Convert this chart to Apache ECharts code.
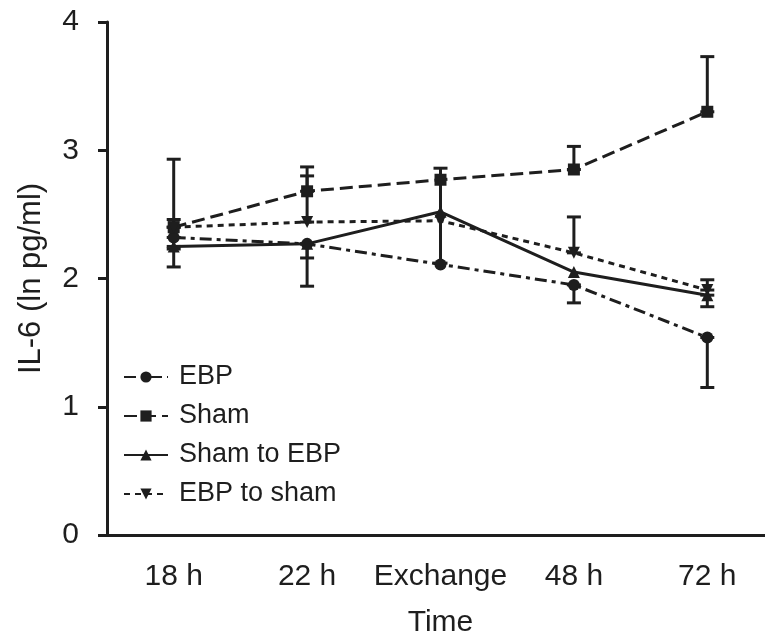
<!DOCTYPE html>
<html>
<head>
<meta charset="utf-8">
<script src="https://cdn.jsdelivr.net/npm/echarts@6/dist/echarts.min.js"></script>
<style>
  html, body { margin: 0; padding: 0; background: #fff; }
  #chart { width: 765px; height: 642px; }
</style>
</head>
<body>
<div id="chart"></div>
<script>
const categories = ['18 h', '22 h', 'Exchange', '48 h', '72 h'];
const yTicks = [0, 1, 2, 3, 4];

// means (ln pg/ml)
const ebp = [2.32, 2.27, 2.11, 1.95, 1.54];
const sham = [2.40, 2.68, 2.77, 2.85, 3.30];
const shamToEbp = [2.25, 2.27, 2.52, 2.05, 1.87];
const ebpToSham = [2.40, 2.44, 2.45, 2.20, 1.91];

// error bar ends, null = no bar drawn
const ebpLow = [2.23, 2.16, null, 1.81, 1.15];
const ebpHigh = [2.32, 2.27, null, 1.95, 1.54];
const shamLow = [2.40, 2.68, null, 2.85, 3.30];
const shamHigh = [2.93, 2.87, null, 3.03, 3.73];
const shamToEbpLow = [2.09, 1.94, 2.12, null, 1.78];
const shamToEbpHigh = [2.25, 2.27, 2.86, null, 1.87];
const ebpToShamLow = [2.40, 2.44, null, 2.20, 1.91];
const ebpToShamHigh = [2.46, 2.80, null, 2.48, 1.99];

const ink = '#1e1e1e';
const font = 'Liberation Sans';

function errData(low, high) {
  let out = [];
  for (let i = 0; i < low.length; i++) {
    if (low[i] != null) out.push([i, low[i], high[i]]);
  }
  return out;
}

function errSeries(low, high) {
  return {
    type: 'custom',
    silent: true,
    z: 1,
    data: errData(low, high),
    renderItem: function (params, api) {
      const lo = api.coord([api.value(0), api.value(1)]);
      const hi = api.coord([api.value(0), api.value(2)]);
      const w = 7;
      const st = { stroke: ink, lineWidth: 3 };
      return {
        type: 'group',
        children: [
          { type: 'line', shape: { x1: lo[0], y1: lo[1], x2: hi[0], y2: hi[1] }, style: st },
          { type: 'line', shape: { x1: lo[0] - w, y1: lo[1], x2: lo[0] + w, y2: lo[1] }, style: st },
          { type: 'line', shape: { x1: hi[0] - w, y1: hi[1], x2: hi[0] + w, y2: hi[1] }, style: st }
        ]
      };
    }
  };
}

function lineSeries(name, data, symbol, dash, rotate) {
  return {
    name: name,
    type: 'line',
    data: data,
    symbol: symbol,
    symbolSize: 12,
    symbolRotate: rotate || 0,
    z: 2,
    itemStyle: { color: ink },
    lineStyle: { color: ink, width: 3, type: dash }
  };
}

const chart = echarts.init(document.getElementById('chart'));
chart.setOption({
  animation: false,
  backgroundColor: '#fff',
  grid: { left: 107, width: 667, top: 22, bottom: 107, outerBoundsMode: 'none', containLabel: false },
  legend: {
    orient: 'vertical',
    left: 118,
    top: 358,
    itemWidth: 44,
    itemHeight: 14,
    itemGap: 11,
    data: ['EBP', 'Sham', 'Sham to EBP', 'EBP to sham'],
    textStyle: { fontFamily: font, fontSize: 27, color: ink, lineHeight: 28, padding: [0, 0, 0, 6] }
  },
  xAxis: {
    type: 'category',
    data: categories,
    boundaryGap: true,
    name: 'Time',
    nameLocation: 'middle',
    nameGap: 73,
    nameTextStyle: { fontFamily: font, fontSize: 30, color: ink },
    axisLine: { lineStyle: { color: ink, width: 3 } },
    axisTick: { alignWithLabel: true, interval: 0, length: 10, lineStyle: { color: ink, width: 3 } },
    axisLabel: { interval: 0, fontFamily: font, fontSize: 30, color: ink, margin: 27 },
    splitLine: { show: false }
  },
  yAxis: {
    type: 'value',
    min: yTicks[0],
    max: yTicks[yTicks.length - 1],
    interval: 1,
    name: 'IL-6 (ln pg/ml)',
    nameLocation: 'middle',
    nameGap: 60,
    nameTextStyle: { fontFamily: font, fontSize: 31, color: ink },
    axisLine: { show: true, lineStyle: { color: ink, width: 3 } },
    axisTick: { show: true, length: 9, lineStyle: { color: ink, width: 3 } },
    axisLabel: { fontFamily: font, fontSize: 30, color: ink, margin: 28 },
    splitLine: { show: false }
  },
  series: [
    lineSeries('EBP', ebp, 'circle', [12, 5, 4, 5]),
    lineSeries('Sham', sham, 'rect', [13, 6]),
    lineSeries('Sham to EBP', shamToEbp, 'triangle', 'solid'),
    lineSeries('EBP to sham', ebpToSham, 'triangle', [6, 5], 180),
    errSeries(ebpLow, ebpHigh),
    errSeries(shamLow, shamHigh),
    errSeries(shamToEbpLow, shamToEbpHigh),
    errSeries(ebpToShamLow, ebpToShamHigh)
  ]
});
</script>
</body>
</html>
